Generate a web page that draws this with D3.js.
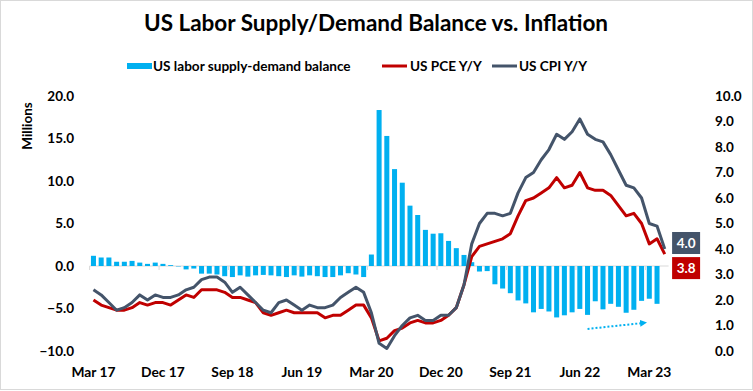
<!DOCTYPE html>
<html>
<head>
<meta charset="utf-8">
<script src="https://cdn.jsdelivr.net/npm/d3@7"></script>
<style>
body { margin: 0; background: #fff; }
svg text { font-family: Lato, "Open Sans", sans-serif; font-weight: bold; fill: #000; }
</style>
</head>
<body>
<div id="chart"></div>
<script>
// monthly categories, Mar 2017 - May 2023
var months = ["Mar 17","Apr 17","May 17","Jun 17","Jul 17","Aug 17","Sep 17","Oct 17","Nov 17","Dec 17",
  "Jan 18","Feb 18","Mar 18","Apr 18","May 18","Jun 18","Jul 18","Aug 18","Sep 18","Oct 18","Nov 18","Dec 18",
  "Jan 19","Feb 19","Mar 19","Apr 19","May 19","Jun 19","Jul 19","Aug 19","Sep 19","Oct 19","Nov 19","Dec 19",
  "Jan 20","Feb 20","Mar 20","Apr 20","May 20","Jun 20","Jul 20","Aug 20","Sep 20","Oct 20","Nov 20","Dec 20",
  "Jan 21","Feb 21","Mar 21","Apr 21","May 21","Jun 21","Jul 21","Aug 21","Sep 21","Oct 21","Nov 21","Dec 21",
  "Jan 22","Feb 22","Mar 22","Apr 22","May 22","Jun 22","Jul 22","Aug 22","Sep 22","Oct 22","Nov 22","Dec 22",
  "Jan 23","Feb 23","Mar 23","Apr 23","May 23"];

var tickLabels = ["Mar 17","Dec 17","Sep 18","Jun 19","Mar 20","Dec 20","Sep 21","Jun 22","Mar 23"];

// labor supply-demand balance, millions (Mar 17 - Apr 23)
var balance = [1.2, 1.0, 1.0, 0.5, 0.5, 0.6, 0.4, 0.25, 0.4, 0.25,
  0.1, -0.05, -0.4, -0.3, -0.9, -0.9, -1.0, -1.2, -1.3, -1.1, -1.25, -1.1,
  -1.05, -1.1, -1.2, -1.3, -1.1, -1.25, -1.1, -1.2, -1.3, -1.3, -1.1, -0.85,
  -1.0, -1.3, 1.35, 18.35, 15.3, 11.4, 9.8, 7.1, 6.0, 4.25, 3.8, 3.85,
  2.95, 2.1, 1.3, 0.45, -0.65, -0.6, -2.15, -2.65, -3.2, -4.05, -4.4, -5.45,
  -5.05, -5.35, -6.05, -5.8, -5.45, -5.05, -5.75, -4.15, -5.1, -4.45, -4.8, -5.5,
  -5.15, -4.1, -3.85, -4.45];

// PCE y/y, %
var pce = [2.0, 1.8, 1.7, 1.6, 1.6, 1.7, 1.9, 1.8, 1.9, 1.9,
  1.8, 2.0, 2.2, 2.1, 2.4, 2.4, 2.4, 2.3, 2.1, 2.1, 2.0, 1.9,
  1.5, 1.4, 1.5, 1.6, 1.5, 1.5, 1.5, 1.5, 1.3, 1.4, 1.4, 1.6,
  1.8, 1.8, 1.3, 0.4, 0.5, 0.8, 0.9, 1.1, 1.2, 1.1, 1.1, 1.2,
  1.4, 1.7, 2.6, 3.7, 4.1, 4.2, 4.3, 4.4, 4.6, 5.3, 5.9, 6.0,
  6.2, 6.4, 6.8, 6.4, 6.5, 7.0, 6.4, 6.3, 6.3, 6.1, 5.7, 5.3,
  5.4, 5.0, 4.2, 4.4, 3.8];

// CPI y/y, %
var cpi = [2.4, 2.2, 1.9, 1.6, 1.7, 1.9, 2.2, 2.0, 2.2, 2.1,
  2.1, 2.2, 2.4, 2.5, 2.8, 2.9, 2.9, 2.7, 2.3, 2.5, 2.2, 1.9,
  1.6, 1.5, 1.9, 2.0, 1.8, 1.6, 1.8, 1.7, 1.7, 1.8, 2.1, 2.3,
  2.5, 2.3, 1.5, 0.3, 0.1, 0.6, 1.0, 1.3, 1.4, 1.2, 1.2, 1.4,
  1.4, 1.7, 2.6, 4.2, 5.0, 5.4, 5.4, 5.3, 5.4, 6.2, 6.8, 7.0,
  7.5, 7.9, 8.5, 8.3, 8.6, 9.1, 8.5, 8.3, 8.2, 7.7, 7.1, 6.5,
  6.4, 6.0, 5.0, 4.9, 4.0];

var leftTicks = [-10, -5, 0, 5, 10, 15, 20];
var rightTicks = [0, 1, 2, 3, 4, 5, 6, 7, 8, 9, 10];

// dotted trend arrow under the bars (month, millions)
var arrowFrom = { month: "Jul 22", value: -7.4 };
var arrowTo = { month: "Feb 23", value: -6.7 };

var blue = "#00b0f0", red = "#c00000", slate = "#44546a";

var width = 753, height = 391;

var svg = d3.select("#chart")
    .append("svg")
    .attr("width", width)
    .attr("height", height);

svg.append("rect")
    .attr("x", 0.5).attr("y", 0.5)
    .attr("width", width - 1).attr("height", height - 2)
    .attr("fill", "#fff")
    .attr("stroke", "#d9d9d9");

var x = d3.scaleBand()
    .domain(months)
    .range([89.6, 668.6])
    .paddingInner(0.35)
    .paddingOuter(0.175);

var cx = function(m) { return x(m) + x.bandwidth() / 2 };

var yL = d3.scaleLinear().domain([-10, 20]).range([351, 96]);
var yR = d3.scaleLinear().domain([0, 10]).range([351, 96]);

// title
svg.append("text")
    .attr("x", 376)
    .attr("y", 31)
    .attr("text-anchor", "middle")
    .style("font-size", "22.5px")
    .text("US Labor Supply/Demand Balance vs. Inflation");

// legend
var legend = svg.append("g").attr("transform", "translate(0,66)");
legend.append("rect").attr("x", 127).attr("y", -3).attr("width", 25).attr("height", 6).attr("fill", blue);
legend.append("text").attr("x", 153).attr("y", 5).style("font-size", "13.6px").text("US labor supply-demand balance");
legend.append("line").attr("x1", 382).attr("x2", 407).attr("stroke", red).attr("stroke-width", 3);
legend.append("text").attr("x", 410).attr("y", 5).style("font-size", "13.6px").text("US PCE Y/Y");
legend.append("line").attr("x1", 492).attr("x2", 517).attr("stroke", slate).attr("stroke-width", 3);
legend.append("text").attr("x", 519).attr("y", 5).style("font-size", "13.6px").text("US CPI Y/Y");

// axis title
svg.append("text")
    .attr("transform", "translate(32,126) rotate(-90)")
    .attr("text-anchor", "middle")
    .style("font-size", "13.5px")
    .text("Millions");

// left axis
var gLeft = svg.append("g")
    .attr("transform", "translate(74,0)")
    .call(d3.axisLeft(yL).tickValues(leftTicks).tickFormat(d3.format(".1f")).tickSize(0).tickPadding(0));
gLeft.select(".domain").remove();

// right axis
var gRight = svg.append("g")
    .attr("transform", "translate(715,0)")
    .call(d3.axisRight(yR).tickValues(rightTicks).tickFormat(d3.format(".1f")).tickSize(0).tickPadding(0));
gRight.select(".domain").remove();

svg.selectAll(".tick text")
    .style("font-size", "13.5px")
    .style("font-family", "Lato")
    .style("font-weight", "bold")
    .attr("fill", "#000");

// bottom labels (sit low, away from the zero line)
var gBottom = svg.append("g")
    .attr("transform", "translate(0,367)")
    .call(d3.axisBottom(x).tickValues(tickLabels).tickSize(0).tickPadding(0));
gBottom.select(".domain").remove();
gBottom.selectAll("text")
    .style("font-size", "13.8px")
    .style("font-family", "Lato")
    .style("font-weight", "bold")
    .attr("fill", "#000");

// zero line with tick marks every 9 months
var step = x.step();
var x0 = x.range()[0];
svg.append("line")
    .attr("x1", x0).attr("x2", x.range()[1])
    .attr("y1", yL(0)).attr("y2", yL(0))
    .attr("stroke", "#d9d9d9");

svg.selectAll("line.mtick")
    .data(tickLabels)
    .enter()
    .append("line")
    .attr("class", "mtick")
    .attr("x1", d => x(d) - (step - x.bandwidth()) / 2)
    .attr("x2", d => x(d) - (step - x.bandwidth()) / 2)
    .attr("y1", yL(0))
    .attr("y2", yL(0) + 4)
    .attr("stroke", "#d9d9d9");

// bars
svg.selectAll("rect.bar")
    .data(balance)
    .enter()
    .append("rect")
    .attr("class", "bar")
    .attr("x", (d, i) => x(months[i]))
    .attr("width", x.bandwidth())
    .attr("y", d => yL(Math.max(0, d)))
    .attr("height", d => Math.abs(yL(d) - yL(0)))
    .attr("fill", blue);

// lines
var line = d3.line()
    .x((d, i) => cx(months[i]))
    .y(d => yR(d));

svg.append("path")
    .datum(pce)
    .attr("d", line)
    .attr("fill", "none")
    .attr("stroke", red)
    .attr("stroke-width", 3)
    .attr("stroke-linejoin", "round");

svg.append("path")
    .datum(cpi)
    .attr("d", line)
    .attr("fill", "none")
    .attr("stroke", slate)
    .attr("stroke-width", 3)
    .attr("stroke-linejoin", "round");

// end value boxes
var last = months.length - 1;
var boxes = [
    { v: cpi[last], fill: slate, y: yR(cpi[last]) - 17 },
    { v: pce[last], fill: red, y: yR(pce[last]) + 3 }
];
var bx = x.range()[1] + 3.5;
boxes.forEach(function(b) {
    svg.append("rect")
        .attr("x", bx).attr("y", b.y)
        .attr("width", 28).attr("height", 22)
        .attr("fill", b.fill);
    svg.append("text")
        .attr("x", bx + 14).attr("y", b.y + 16)
        .attr("text-anchor", "middle")
        .style("font-size", "13.5px")
        .style("fill", "#fff")
        .text(d3.format(".1f")(b.v));
});

// dotted trend arrow
svg.append("defs").append("marker")
    .attr("id", "arrowhead")
    .attr("viewBox", "0 0 10 10")
    .attr("refX", 5).attr("refY", 5)
    .attr("markerWidth", 3.5).attr("markerHeight", 3.5)
    .attr("orient", "auto")
    .append("path")
    .attr("d", "M0,0 L10,5 L0,10 z")
    .attr("fill", blue);

svg.append("line")
    .attr("x1", cx(arrowFrom.month)).attr("y1", yL(arrowFrom.value))
    .attr("x2", cx(arrowTo.month) + 2).attr("y2", yL(arrowTo.value))
    .attr("stroke", blue)
    .attr("stroke-width", 2)
    .attr("stroke-dasharray", "2,2")
    .attr("marker-end", "url(#arrowhead)");
</script>
</body>
</html>
